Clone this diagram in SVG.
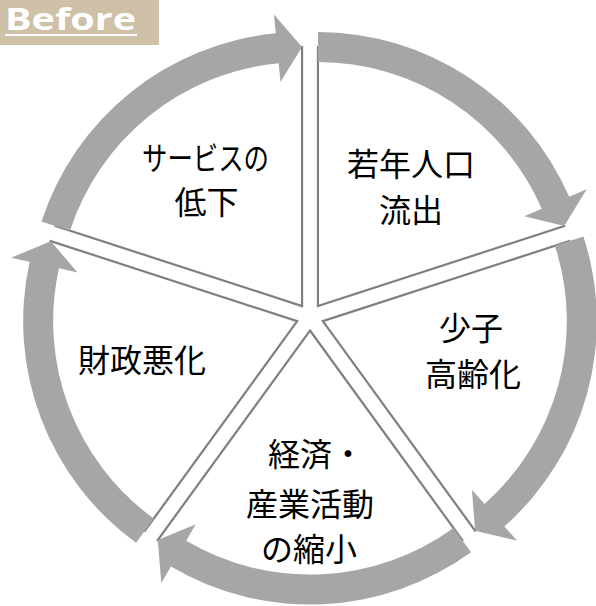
<svg xmlns="http://www.w3.org/2000/svg" width="596" height="606" viewBox="0 0 596 606">
<defs>
<path id="seg" d="M0,0 L0,-259 A259,259 0 0 1 246.32,-80.04 Z"/>
<path id="arr" d="M0,-274 A274,274 0 0 1 251.27,-109.26 L268.70,-116.83 L246.32,-80.04 L206.34,-89.72 L223.76,-97.30 A244,244 0 0 0 0,-244 Z"/>
</defs>
<style>
.seg{fill:#ffffff;stroke:#7f7f7f;stroke-width:2.2;stroke-linejoin:miter}
.arr{fill:#a6a6a6}
.lbl{font-family:"Noto Sans CJK JP","Noto Sans",sans-serif;font-size:32px;fill:#000000;text-anchor:middle}
.ttl{font-family:"Open Sans","Noto Sans",sans-serif;font-size:31px;font-weight:700;fill:#ffffff}
</style>
<rect width="596" height="606" fill="#ffffff"/>
<g id="title">
<rect x="0" y="0" width="159" height="45" fill="#cfc0a8"/>
<text class="ttl" x="5" y="30" textLength="131" lengthAdjust="spacingAndGlyphs">Before</text>
<rect x="5" y="34" width="132" height="2" fill="#ffffff"/>
</g>
<g id="node-wakamono">
<use href="#seg" class="seg" transform="translate(317.94,306.08)"/>
</g>
<g id="node-shoshi">
<use href="#seg" class="seg" transform="translate(322.84,321.17) rotate(72)"/>
</g>
<g id="node-keizai">
<use href="#seg" class="seg" transform="translate(310,330.5) rotate(144)"/>
</g>
<g id="node-zaisei">
<use href="#seg" class="seg" transform="translate(297.16,321.17) rotate(216)"/>
</g>
<g id="node-service">
<use href="#seg" class="seg" transform="translate(302.06,306.08) rotate(288)"/>
</g>
<g id="connectors">
<use href="#arr" class="arr" transform="translate(317.94,306.08)"/>
<use href="#arr" class="arr" transform="translate(322.84,321.17) rotate(72)"/>
<use href="#arr" class="arr" transform="translate(310,330.5) rotate(144)"/>
<use href="#arr" class="arr" transform="translate(297.16,321.17) rotate(216)"/>
<use href="#arr" class="arr" transform="translate(302.06,306.08) rotate(288)"/>
</g>
<g id="labels">
<text class="lbl" x="411" y="176">若年人口</text>
<text class="lbl" x="411" y="222">流出</text>
<text class="lbl" x="471" y="340">少子</text>
<text class="lbl" x="473" y="386">高齢化</text>
<text class="lbl" x="316" y="466">経済・</text>
<text class="lbl" x="310" y="516">産業活動</text>
<text class="lbl" x="309" y="561">の縮小</text>
<text class="lbl" x="142" y="372">財政悪化</text>
<text class="lbl" x="205.5" y="170" textLength="127" lengthAdjust="spacingAndGlyphs">サービスの</text>
<text class="lbl" x="206.5" y="214">低下</text>
</g>
</svg>
